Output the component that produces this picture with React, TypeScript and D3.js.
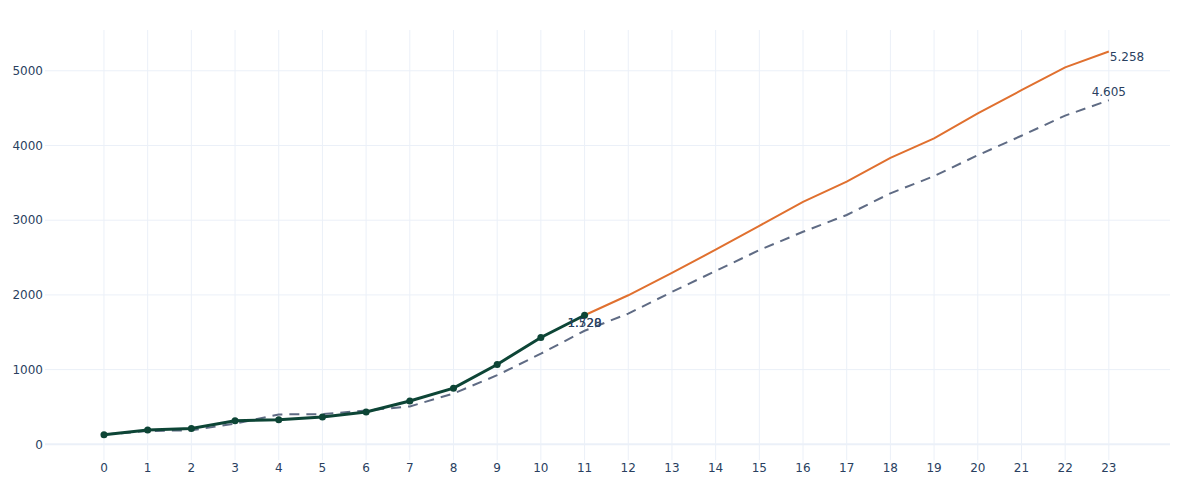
import * as d3 from "d3";

const hours = d3.range(0, 24);
const actual = [129, 192, 213, 316, 330, 365, 432, 580, 752, 1068, 1430, 1728];
const forecast = [1728, 1995, 2295, 2605, 2925, 3245, 3515, 3835, 4095, 4430, 4740, 5045, 5258];
const baseline = [
  130, 178, 188, 276, 400, 404, 452, 507, 680, 925, 1213, 1520, 1750, 2040, 2320, 2600,
  2845, 3070, 3360, 3590, 3870, 4130, 4400, 4605,
];
const yTicks = [0, 1000, 2000, 3000, 4000, 5000];

const width = 1200;
const height = 500;
const left = 45;
const right = 1170;
const top = 30;
const bottom = 460;

const fmt = (v: number) => d3.format(",")(v).replace(",", ".");

export default function App() {
  const x = d3.scaleLinear().domain([-1.35, 24.4]).range([left, right]);
  const y = d3.scaleLinear().domain([-210, 5546]).range([bottom, top]);

  const line = d3
    .line<number>()
    .x((_, i) => x(i))
    .y((d) => y(d));
  const forecastLine = d3
    .line<number>()
    .x((_, i) => x(i + actual.length - 1))
    .y((d) => y(d));

  const lastF = forecast[forecast.length - 1];
  const lastB = baseline[baseline.length - 1];
  const lastA = actual[actual.length - 1];
  const ix = actual.length - 1;

  return (
    <svg
      width={width}
      height={height}
      style={{ position: "absolute", left: 0, top: 0, fontFamily: "'DejaVu Sans', sans-serif" }}
    >
      <rect width={width} height={height} fill="#fff" />
      {hours.map((h) => (
        <line key={"gx" + h} x1={x(h)} x2={x(h)} y1={top} y2={bottom} stroke="#ebf0f8" />
      ))}
      {yTicks.map((t) => (
        <line
          key={"gy" + t}
          x1={left}
          x2={right}
          y1={y(t)}
          y2={y(t)}
          stroke="#ebf0f8"
          strokeWidth={t === 0 ? 2 : 1}
        />
      ))}
      {yTicks.map((t) => (
        <text key={"ty" + t} x={left - 2} y={y(t)} dy="0.35em" textAnchor="end" fontSize={12} fill="#2a3f5f">
          {t}
        </text>
      ))}
      {hours.map((h) => (
        <text key={"tx" + h} x={x(h)} y={bottom + 12} textAnchor="middle" fontSize={12} fill="#2a3f5f">
          {h}
        </text>
      ))}

      <path d={line(baseline)!} fill="none" stroke="#5f6b84" strokeWidth={2} strokeDasharray="10,7" />
      <path d={forecastLine(forecast)!} fill="none" stroke="#e0702f" strokeWidth={2} />
      <path d={line(actual)!} fill="none" stroke="#0d4536" strokeWidth={3} />
      {actual.map((v, i) => (
        <circle key={"p" + i} cx={x(i)} cy={y(v)} r={3.5} fill="#0d4536" />
      ))}

      {/* both labels at hour 11 sit on top of each other, as in the source */}
      <text x={x(ix)} y={y(lastA) + 8} dy="0.35em" textAnchor="middle" fontSize={12} fill="#2a3f5f">
        {fmt(lastA)}
      </text>
      <text x={x(ix)} y={y(baseline[ix]) - 8} dy="0.35em" textAnchor="middle" fontSize={12} fill="#2a3f5f">
        {fmt(baseline[ix])}
      </text>
      <text x={x(23) + 1} y={y(lastF) + 5} dy="0.35em" textAnchor="start" fontSize={12} fill="#2a3f5f">
        {fmt(lastF)}
      </text>
      <text x={x(23)} y={y(lastB) - 8} dy="0.35em" textAnchor="middle" fontSize={12} fill="#2a3f5f">
        {fmt(lastB)}
      </text>
    </svg>
  );
}
